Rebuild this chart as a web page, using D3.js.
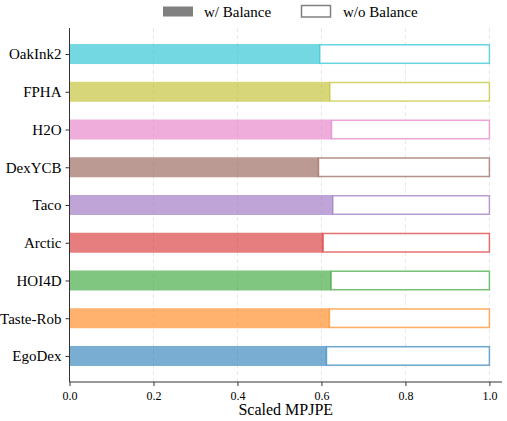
<!DOCTYPE html>
<html>
<head>
<meta charset="utf-8">
<script src="https://cdn.jsdelivr.net/npm/d3@7"></script>
<style>
  body { margin: 0; background: #fff; }
</style>
</head>
<body>
<svg id="chart" width="507" height="421"></svg>
<script>
'use strict';

// datasets, bottom to top
var datasets = ['EgoDex', 'Taste-Rob', 'HOI4D', 'Arctic', 'Taco', 'DexYCB', 'H2O', 'FPHA', 'OakInk2'];
var withBalance = [0.612, 0.619, 0.623, 0.604, 0.627, 0.593, 0.624, 0.620, 0.596];
var withoutBalance = [1, 1, 1, 1, 1, 1, 1, 1, 1];
var colors = ['#1f77b4', '#ff7f0e', '#2ca02c', '#d62728', '#9467bd', '#8c564b', '#e377c2', '#bcbd22', '#17becf'];
var xTicks = [0, 0.2, 0.4, 0.6, 0.8, 1.0];

var FONT = "'Liberation Serif', 'Times New Roman', serif";

(function() {
    var svg = d3.select('#chart');
    var plotLeft = 69.5, plotRight = 502, plotTop = 28, plotBottom = 382;

    var x = d3.scaleLinear().domain([0, 1.03]).range([plotLeft, plotRight]);
    var y = d3.scaleLinear().domain([-0.69, datasets.length - 1 + 0.69]).range([plotBottom, plotTop]);
    var barH = 20;

    /* grid */
    svg.append('g').selectAll('line')
        .data(xTicks.slice(1))
        .enter().append('line')
        .attr('x1', function(d) { return x(d); })
        .attr('x2', function(d) { return x(d); })
        .attr('y1', plotTop)
        .attr('y2', plotBottom)
        .attr('stroke', '#e2e2e2')
        .attr('stroke-width', 0.8)
        .attr('stroke-dasharray', '4,3');

    /* filled bars */
    svg.append('g').selectAll('rect')
        .data(datasets)
        .enter().append('rect')
        .attr('x', x(0))
        .attr('y', function(d, i) { return y(i) - barH / 2; })
        .attr('width', function(d, i) { return x(withBalance[i]) - x(0); })
        .attr('height', barH)
        .attr('fill', function(d, i) { return colors[i]; })
        .attr('fill-opacity', 0.6);

    /* outline bars (remaining part up to w/o balance) */
    svg.append('g').selectAll('rect')
        .data(datasets)
        .enter().append('rect')
        .attr('x', function(d, i) { return x(withBalance[i]); })
        .attr('y', function(d, i) { return y(i) - barH / 2 + 0.75; })
        .attr('width', function(d, i) { return x(withoutBalance[i]) - x(withBalance[i]); })
        .attr('height', barH - 1.5)
        .attr('fill', '#fff')
        .attr('stroke', function(d, i) { return colors[i]; })
        .attr('stroke-opacity', 0.65)
        .attr('stroke-width', 1.5);

    /* axes */
    var xAxis = d3.axisBottom(x)
        .tickValues(xTicks)
        .tickFormat(d3.format('.1f'))
        .tickSize(4)
        .tickPadding(5);
    var gx = svg.append('g').attr('transform', 'translate(0,' + plotBottom + ')').call(xAxis)
        .attr('font-family', FONT).attr('font-size', 12);
    gx.select('.domain').attr('d', 'M' + plotLeft + ',0H' + plotRight).attr('stroke', '#333').attr('stroke-width', 1);
    gx.selectAll('.tick line').attr('stroke', '#333');
    gx.selectAll('text').attr('fill', '#000');

    var yAxis = d3.axisLeft(y)
        .tickValues(d3.range(datasets.length))
        .tickFormat(function(i) { return datasets[i]; })
        .tickSize(4)
        .tickPadding(4);
    var gy = svg.append('g').attr('transform', 'translate(' + plotLeft + ',0)').call(yAxis)
        .attr('font-family', FONT).attr('font-size', 15);
    gy.select('.domain').attr('d', 'M0,' + plotTop + 'V' + plotBottom).attr('stroke', '#333').attr('stroke-width', 1);
    gy.selectAll('.tick line').attr('stroke', '#333');
    gy.selectAll('text').attr('fill', '#000');

    svg.append('text')
        .attr('x', (plotLeft + plotRight) / 2)
        .attr('y', 415)
        .attr('text-anchor', 'middle')
        .attr('font-family', FONT)
        .attr('font-size', 16)
        .text('Scaled MPJPE');

    /* legend */
    var legend = svg.append('g').attr('font-family', FONT).attr('font-size', 15);
    legend.append('rect').attr('x', 163).attr('y', 6.5).attr('width', 30).attr('height', 10).attr('fill', '#808080');
    legend.append('text').attr('x', 204).attr('y', 17).text('w/ Balance');
    legend.append('rect').attr('x', 301.5).attr('y', 5.5).attr('width', 29).attr('height', 11.5)
        .attr('fill', '#fff').attr('stroke', '#808080').attr('stroke-width', 1.5);
    legend.append('text').attr('x', 343).attr('y', 17).text('w/o Balance');
})();
</script>
</body>
</html>
